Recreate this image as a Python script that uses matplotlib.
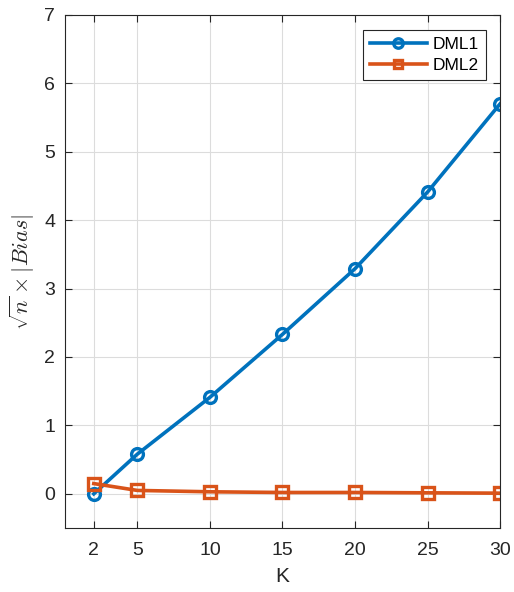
import matplotlib
matplotlib.use("Agg")
import matplotlib.pyplot as plt

# 数据
K = [2, 5, 10, 15, 20, 25, 30]
dml1 = [0.0, 0.58, 1.41, 2.33, 3.29, 4.41, 5.70]
dml2 = [0.15, 0.05, 0.03, 0.02, 0.02, 0.015, 0.01]

plt.rcParams["font.family"] = ["Liberation Sans", "DejaVu Sans"]
plt.rcParams["mathtext.fontset"] = "cm"

axcol = "#262626"
fig = plt.figure(figsize=(5.14, 5.92), dpi=100)
ax = fig.add_axes([0.126, 0.108, 0.847, 0.867])

ax.plot(K, dml1, "-o", color="#0072BD", lw=2.6, ms=8.5, mew=2.4,
        mfc="none", label="DML1")
ax.plot(K, dml2, "-s", color="#D95319", lw=2.6, ms=8, mew=2.4,
        mfc="none", label="DML2")

ax.set_xlim(0, 30)
ax.set_ylim(-0.5, 7)
ax.set_xticks(K)
ax.set_yticks(range(0, 8))
ax.grid(True, color="#dcdcdc", lw=0.8)
ax.tick_params(direction="in", top=True, right=True, labelsize=14,
               colors=axcol, length=5)
ax.tick_params(axis="x", pad=10)
ax.tick_params(axis="y", pad=7)
for s in ax.spines.values():
    s.set_color(axcol)
    s.set_linewidth(0.8)

ax.set_xlabel("K", fontsize=15, color=axcol, labelpad=6)
ax.set_ylabel(r"$\sqrt{n}\times|Bias|$", fontsize=16, color=axcol, labelpad=5)

leg = ax.legend(loc="upper right", fontsize=12.5, fancybox=False,
                framealpha=1, edgecolor=axcol, handlelength=3.3,
                handletextpad=0.35, borderpad=0.4, labelspacing=0.35,
                markerscale=0.8, borderaxespad=0,
                bbox_to_anchor=(0.968, 0.971))
leg.get_frame().set_linewidth(0.8)

fig.savefig("out.png", dpi=100)
